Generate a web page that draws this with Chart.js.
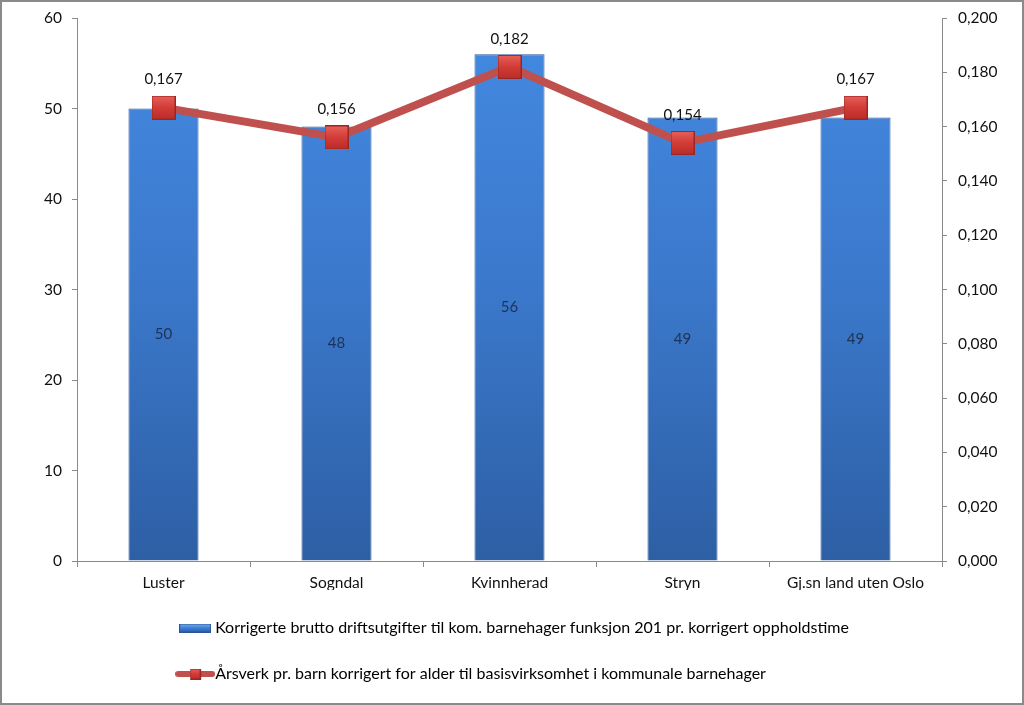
<!DOCTYPE html>
<html>
<head>
<meta charset="utf-8">
<script src="https://cdn.jsdelivr.net/npm/chart.js@4"></script>
<style>
  html, body { margin: 0; padding: 0; background: #fff; }
  #wrap { width: 1024px; height: 705px; }
</style>
</head>
<body>
<div id="wrap"><canvas id="myChart" width="1024" height="705"></canvas></div>
<script>
const categories = ["Luster", "Sogndal", "Kvinnherad", "Stryn", "Gj.sn land uten Oslo"];
const costValues = [50, 48, 56, 49, 49];
const fteValues = [0.167, 0.156, 0.182, 0.154, 0.167];
const costLabel = "Korrigerte brutto driftsutgifter til kom. barnehager funksjon 201 pr. korrigert oppholdstime";
const fteLabel = "Årsverk pr. barn korrigert for alder til basisvirksomhet i kommunale barnehager";

const FONT = "Lato";
const comma = (v, d) => v.toFixed(d).replace(".", ",");

// marker square with a little bevel
function makeMarker(size) {
  const c = document.createElement("canvas");
  c.width = size; c.height = size;
  const g = c.getContext("2d");
  const grad = g.createLinearGradient(0, 0, 0, size);
  grad.addColorStop(0, "#e8605b");
  grad.addColorStop(0.5, "#d33c37");
  grad.addColorStop(1, "#b92d29");
  g.fillStyle = grad;
  g.fillRect(0, 0, size, size);
  g.strokeStyle = "#9a2623";
  g.lineWidth = 1;
  g.strokeRect(0.5, 0.5, size - 1, size - 1);
  return c;
}

function makeBarIcon() {
  const c = document.createElement("canvas");
  c.width = 32; c.height = 9;
  const g = c.getContext("2d");
  const grad = g.createLinearGradient(0, 0, 0, 9);
  grad.addColorStop(0, "#7fb2ee");
  grad.addColorStop(0.5, "#3f80d6");
  grad.addColorStop(1, "#2a5c9f");
  g.fillStyle = grad;
  g.fillRect(0, 0, 32, 9);
  g.strokeStyle = "#2a5596";
  g.strokeRect(0.5, 0.5, 31, 8);
  return c;
}

function makeLineIcon() {
  const c = document.createElement("canvas");
  c.width = 40; c.height = 12;
  const g = c.getContext("2d");
  g.strokeStyle = "#c0504d";
  g.lineWidth = 6;
  g.lineCap = "round";
  g.beginPath(); g.moveTo(3, 6); g.lineTo(37, 6); g.stroke();
  g.drawImage(makeMarker(11), 14.5, 0.5);
  return c;
}

const markerImg = makeMarker(24);

const bgPlugin = {
  id: "frame",
  beforeDraw(chart) {
    const ctx = chart.ctx;
    ctx.save();
    ctx.fillStyle = "#fff";
    ctx.fillRect(0, 0, chart.width, chart.height);
    ctx.restore();
  },
  afterDraw(chart) {
    const ctx = chart.ctx;
    ctx.save();
    ctx.strokeStyle = "#8a8a8a";
    ctx.lineWidth = 2;
    ctx.strokeRect(1, 1, chart.width - 2, chart.height - 2);
    ctx.restore();
  }
};

// rows left aligned, block centred like the original legend
const legendShift = {
  id: "legendShift",
  afterLayout(chart) {
    const lg = chart.legend;
    if (!lg || !lg.lineWidths) return;
    const pad = lg.options.labels.padding;
    const w = Math.max(...lg.lineWidths) - pad;
    lg.left = (chart.width - w) / 2 - pad + 4;
  }
};

const valueLabels = {
  id: "valueLabels",
  afterDatasetsDraw(chart) {
    const ctx = chart.ctx;
    ctx.save();
    ctx.font = "15px " + FONT;
    ctx.textAlign = "center";
    ctx.textBaseline = "middle";
    chart.getDatasetMeta(0).data.forEach((el, i) => {
      ctx.fillStyle = "#1d3357";
      ctx.fillText(costValues[i], el.x, (el.y + el.base) / 2);
    });
    chart.getDatasetMeta(1).data.forEach((el, i) => {
      ctx.fillStyle = "#111";
      ctx.fillText(comma(fteValues[i], 3), el.x, el.y - 28);
    });
    ctx.restore();
  }
};

const fitY = (w) => (s) => { s.width = w; s.paddingTop = 0; s.paddingBottom = 0; };

const data = {
  labels: categories,
  datasets: [
    {
      type: "bar",
      label: costLabel,
      data: costValues,
      yAxisID: "y",
      order: 2,
      backgroundColor(c) {
        const area = c.chart.chartArea;
        if (!area) return "#3c7dd3";
        const g = c.chart.ctx.createLinearGradient(0, area.top, 0, area.bottom);
        g.addColorStop(0, "#438ae2");
        g.addColorStop(0.5, "#3b78cb");
        g.addColorStop(1, "#2d5fa4");
        return g;
      },
      borderColor: "#2b5597",
      borderWidth: 1,
      categoryPercentage: 1,
      barPercentage: 0.405,
    },
    {
      type: "line",
      label: fteLabel,
      data: fteValues,
      yAxisID: "y1",
      order: 1,
      borderColor: "#c0504d",
      borderWidth: 8,
      tension: 0,
      pointStyle: markerImg,
      pointRadius: 12,
      pointHoverRadius: 12,
    },
  ],
};

const config = {
  data: data,
  plugins: [bgPlugin, legendShift, valueLabels],
  options: {
    responsive: false,
    animation: false,
    layout: { autoPadding: false, padding: { top: 18, bottom: 13, left: 0, right: 0 } },
    scales: {
      x: {
        grid: { drawOnChartArea: false, color: "#8a8a8a", tickLength: 6, offset: true },
        border: { color: "#8a8a8a", width: 1 },
        ticks: { color: "#111", font: { family: FONT, size: 15.5 }, padding: 7 },
        afterFit(s) { s.height = 29; },
      },
      y: {
        position: "left",
        min: 0,
        max: 60,
        ticks: { stepSize: 10, color: "#111", font: { family: FONT, size: 15.5 }, padding: 10 },
        grid: { drawOnChartArea: false, color: "#8a8a8a", tickLength: 5 },
        border: { color: "#8a8a8a", width: 1 },
        afterFit: fitY(77),
      },
      y1: {
        position: "right",
        min: 0,
        max: 0.2,
        ticks: {
          stepSize: 0.02,
          color: "#111",
          font: { family: FONT, size: 15.5 },
          padding: 11,
          callback: (v) => comma(v, 3),
        },
        grid: { drawOnChartArea: false, color: "#8a8a8a", tickLength: 5 },
        border: { color: "#8a8a8a", width: 1 },
        afterFit: fitY(82),
      },
    },
    plugins: {
      tooltip: { enabled: false },
      legend: {
        display: true,
        position: "bottom",
        align: "start",
        labels: {
          color: "#111",
          font: { family: FONT, size: 16 },
          padding: 30,
          usePointStyle: true,
          pointStyleWidth: 24,
          generateLabels() {
            return [
              { text: costLabel, pointStyle: makeBarIcon(), datasetIndex: 0, fillStyle: "#3c7dd3", strokeStyle: "#3c7dd3", lineWidth: 0 },
              { text: fteLabel, pointStyle: makeLineIcon(), datasetIndex: 1, fillStyle: "#c0504d", strokeStyle: "#c0504d", lineWidth: 0 },
            ];
          },
        },
      },
    },
  },
};

const myChart = new Chart(document.getElementById("myChart"), config);
</script>
</body>
</html>
